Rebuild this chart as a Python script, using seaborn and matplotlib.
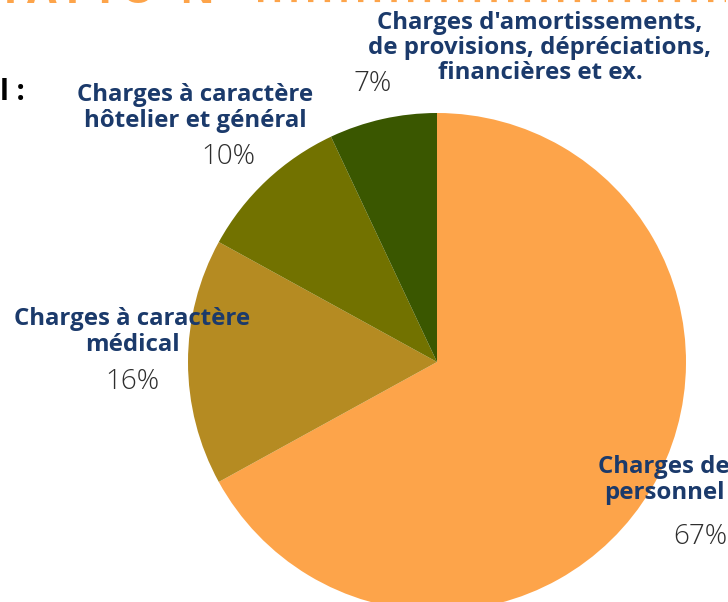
import matplotlib
matplotlib.use('Agg')
from matplotlib import pyplot as plt
from matplotlib.lines import Line2D
import seaborn as sns

categories = ['Charges de\npersonnel',
              'Charges à caractère\nmédical',
              'Charges à caractère\nhôtelier et général',
              "Charges d'amortissements,\nde provisions, dépréciations,\nfinancières et ex."]
shares = [67, 16, 10, 7]
colors = ['#FDA44A', '#B58B22', '#727200', '#3A5700']

sns.set_theme(style='white')
plt.rcParams['font.family'] = ['Open Sans', 'DejaVu Sans']

W, H = 728, 602
fig = plt.figure(figsize=(W / 100, H / 100), dpi=100)
ax = fig.add_axes([0, 0, 1, 1])


def py(y):
    # pixel row (from top) -> data y
    return H - y


ax.pie(shares, colors=colors, startangle=90, counterclock=False,
       center=(437, py(362)), radius=249, wedgeprops=dict(linewidth=0))
ax.set_xlim(0, W)
ax.set_ylim(0, H)
ax.set_aspect('equal')
ax.axis('off')

navy = '#1B3A6B'
grey = '#2E2E2E'
# label boxes: (x center, y center of name block, x pct, y pct)
spots = [(664, 480, 700, 537),
         (132, 332, 132, 382),
         (195, 108, 228, 157),
         (540, 48, 373, 84)]
for name, val, (lx, ly, px, pyy) in zip(categories, shares, spots):
    ax.text(lx, py(ly), name, ha='center', va='center', fontsize=17.3,
            fontweight='bold', color=navy, linespacing=1.08)
    ax.text(px, py(pyy), f'{val}%', ha='center', va='center', fontsize=20,
            fontweight='light', color=grey)

# bits of the surrounding page that show in the crop
for ch, x in zip('TATION', [10, 42, 72, 104, 138, 197]):
    ax.text(x, py(3), ch, ha='center', va='baseline', fontsize=31,
            fontweight='bold', color='#FDA44A')
ax.text(0, py(93), 'l :', ha='left', va='center', fontsize=21,
        fontweight='bold', color='black')
ax.add_line(Line2D([258, 726], [py(0), py(0)], color='#FDA44A', lw=3,
                   linestyle=(0, (1.3, 2.7))))

plt.savefig('out.png', dpi=100)
